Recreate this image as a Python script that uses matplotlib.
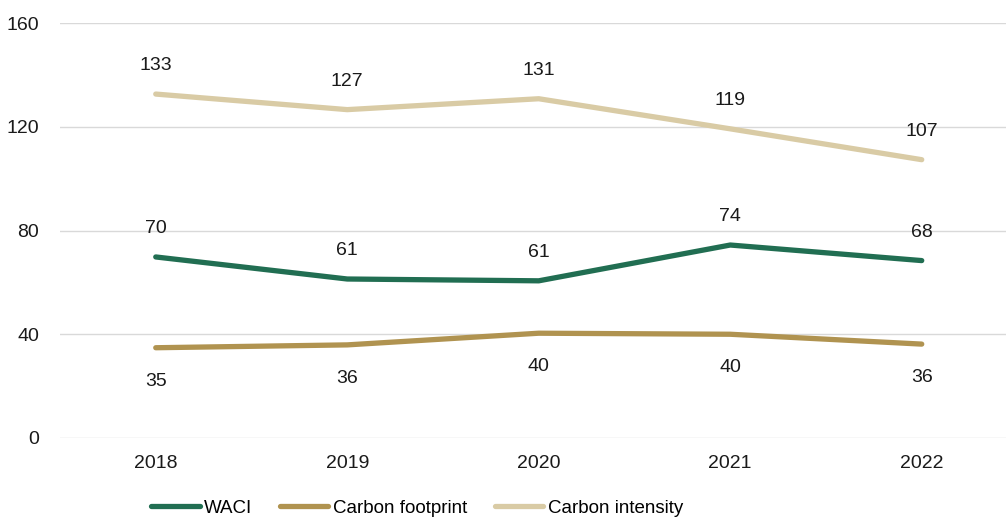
import matplotlib
matplotlib.use("Agg")
import matplotlib.pyplot as plt

years = ["2018", "2019", "2020", "2021", "2022"]
waci = [69.8, 61.3, 60.6, 74.4, 68.4]
footprint = [34.8, 35.9, 40.4, 40.0, 36.2]
intensity = [132.6, 126.6, 130.8, 119.2, 107.3]
yticks = [0, 40, 80, 120, 160]

plt.rcParams['font.family'] = ['Liberation Sans', 'DejaVu Sans']
FS = 14

fig = plt.figure(figsize=(10.06, 5.19), dpi=100)
ax = fig.add_axes([60 / 1006, 1 - 438 / 519, 1 - 60 / 1006, 415 / 519])

x = list(range(len(years)))
series = [
    ("WACI", waci, "#216E52", 20.5),
    ("Carbon footprint", footprint, "#B09350", -24),
    ("Carbon intensity", intensity, "#D9CBA5", 20.5),
]
for name, vals, col, off in series:
    ax.plot(x, vals, color=col, lw=3.8, solid_capstyle="round",
            solid_joinstyle="round", label=name)
    for xi, v in zip(x, vals):
        ax.annotate(f"{round(v)}", (xi, v), xytext=(0, off),
                    textcoords="offset points", ha="center", va="center",
                    fontsize=FS, color="#1a1a1a")

ax.set_xlim(-0.5, 4.44)
ax.set_ylim(0, 160)
ax.set_yticks(yticks)
ax.set_xticks(x)
ax.set_xticklabels(years)
ax.tick_params(length=0, labelsize=FS, labelcolor="#1a1a1a")
ax.tick_params(axis="x", pad=12)
ax.tick_params(axis="y", pad=15)
ax.grid(axis="y", color="#d9d9d9", lw=1)
ax.set_axisbelow(True)
for s in ax.spines.values():
    s.set_visible(False)

fig.legend(loc="center", bbox_to_anchor=(417 / 1006, 1 - 508 / 519), ncol=3,
           frameon=False, fontsize=13.5, handlelength=2.6, handletextpad=0.25,
           columnspacing=1.45)

fig.savefig("out.png", dpi=100)
